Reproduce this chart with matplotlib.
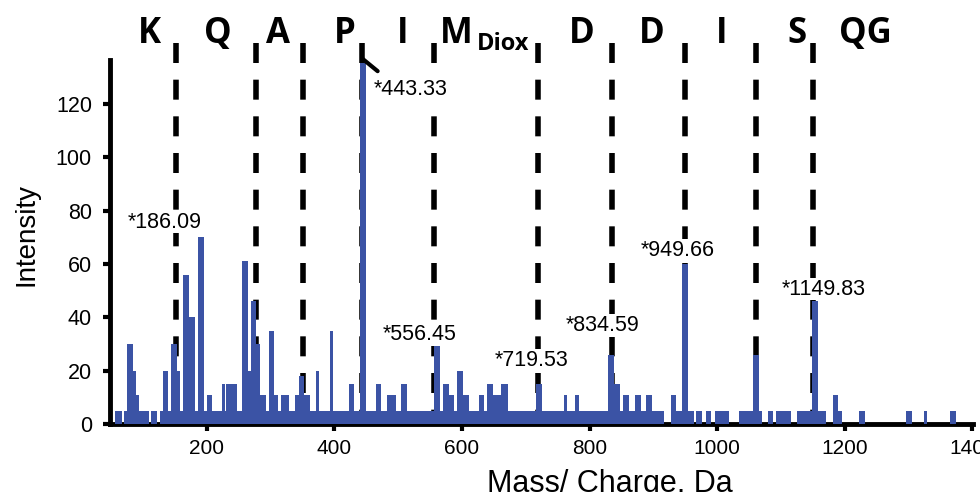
import matplotlib
matplotlib.use('Agg')
import numpy as np
import matplotlib.pyplot as plt

plt.rcParams['font.family'] = ['Liberation Sans', 'DejaVu Sans']

# spectrum: bin edges (m/z) and intensity of each bin
mz_edges = [56, 67, 71, 75, 85, 89, 94, 109, 112, 122, 127, 131, 140, 144, 154,
            158, 163, 173, 182, 186, 196, 200, 209, 224, 228, 231, 247, 256,
            265, 270, 278, 284, 293, 298, 306, 312, 316, 329, 338, 344, 352,
            362, 371, 376, 394, 398, 423, 431, 440, 449, 465, 473, 482, 497,
            505, 514, 556, 565, 571, 580, 588, 593, 602, 611, 627, 635, 640,
            649, 662, 672, 716, 726, 760, 765, 778, 783, 829, 838, 848, 852,
            862, 871, 880, 889, 898, 917, 927, 936, 945, 954, 964, 967, 977,
            982, 991, 996, 1019, 1034, 1056, 1065, 1070, 1080, 1087, 1093,
            1116, 1125, 1149, 1158, 1171, 1181, 1190, 1195, 1222, 1231, 1296,
            1305, 1324, 1329, 1365, 1375]
intensity = [5, 0, 5, 30, 20, 11, 5, 0, 5, 0, 5, 20, 5, 30,
             20, 5, 56, 40, 5, 70, 5, 11, 5, 15, 5, 15, 5,
             61, 20, 46, 30, 11, 5, 35, 11, 5, 11, 5, 11, 18,
             11, 5, 20, 5, 35, 5, 15, 5, 135.5, 5, 15, 5, 11,
             5, 15, 5, 29.5, 5, 15, 11, 5, 20, 11, 5, 11, 5,
             15, 11, 15, 5, 15, 5, 11, 5, 11, 5, 26, 15, 5,
             11, 5, 11, 5, 11, 5, 0, 11, 5, 60, 5, 0, 5,
             0, 5, 0, 5, 0, 5, 26, 5, 0, 5, 0,
             5, 0, 5, 46, 5, 0, 11, 5, 0, 5, 0,
             5, 0, 5, 0, 5]

# fragment ion positions (dashed lines) and the residues between them
ion_mz = [152, 277, 351, 443.33, 556.45, 719.53, 834.59, 949.66, 1061, 1149.83]
residues = ['K', 'Q', 'A', 'P', 'I', 'M', 'D', 'D', 'I', 'S', 'QG']
peak_labels = ['*186.09', '*443.33', '*556.45', '*719.53', '*834.59',
               '*949.66', '*1149.83']

# layout
residue_x = [111, 218, 312, 417, 507.5, 591, 788, 897.5, 1007, 1125, 1233]
label_xy = [(134.7, 75.7), (520, 125.6), (534, 33.4), (709.6, 24),
            (821, 37), (938, 65.2), (1167, 50.6)]
bar_color = '#3b53a5'

fig = plt.figure(figsize=(9.8, 4.92), dpi=100)
ax = fig.add_axes([110 / 980, 68 / 492, 863 / 980, 364 / 492])

ax.stairs(intensity, mz_edges, fill=True, color=bar_color, baseline=0,
          zorder=3)

lines = ax.vlines(ion_mz, 143, 0, colors='black', linewidth=4,
                  linestyles=(0, (3.6, 3.0)), zorder=1)
lines.set_clip_on(False)

for txt, (x, y) in zip(peak_labels, label_xy):
    ax.text(x, y, txt, ha='center', va='center', fontsize=15.5, zorder=5,
            bbox=dict(fc='white', ec='none', pad=0.6))

# connector from the base peak to its label
imax = int(np.argmax(intensity))
peak_x = mz_edges[imax] + 4
ax.annotate('', xy=(peak_x, intensity[imax] + 1.5), xytext=(11, -9),
            textcoords='offset points', annotation_clip=False,
            arrowprops=dict(arrowstyle='-', lw=3, color='black',
                            shrinkA=0, shrinkB=0))

for res, x in zip(residues, residue_x):
    ax.text(x, 142.9, res, ha='center', va='baseline', fontsize=25,
            fontweight='bold', family=['Open Sans', 'DejaVu Sans'],
            clip_on=False)
ax.text(623, 140.2, 'Diox', ha='left', va='baseline', fontsize=17,
        fontweight='bold', family=['Open Sans', 'DejaVu Sans'], clip_on=False)

ax.set_xlim(48.5, 1401)
ax.set_ylim(0, 136.5)
ax.set_xticks(range(200, 1401, 200))
ax.set_yticks(range(0, 121, 20))

for side in ['top', 'right']:
    ax.spines[side].set_visible(False)
for side in ['left', 'bottom']:
    ax.spines[side].set_linewidth(3.5)
ax.tick_params(axis='both', direction='out', length=5, width=3)
ax.tick_params(axis='y', labelsize=15.5, pad=8)
ax.tick_params(axis='x', labelsize=15, pad=6)

fig.text(27 / 980, 1 - 235 / 492, 'Intensity', rotation=90, ha='center',
         va='center', fontsize=20)
fig.text(610 / 980, 1 - 469 / 492, 'Mass/ Charge, Da', ha='center', va='top',
         fontsize=22)

fig.savefig('out.png', dpi=100)
